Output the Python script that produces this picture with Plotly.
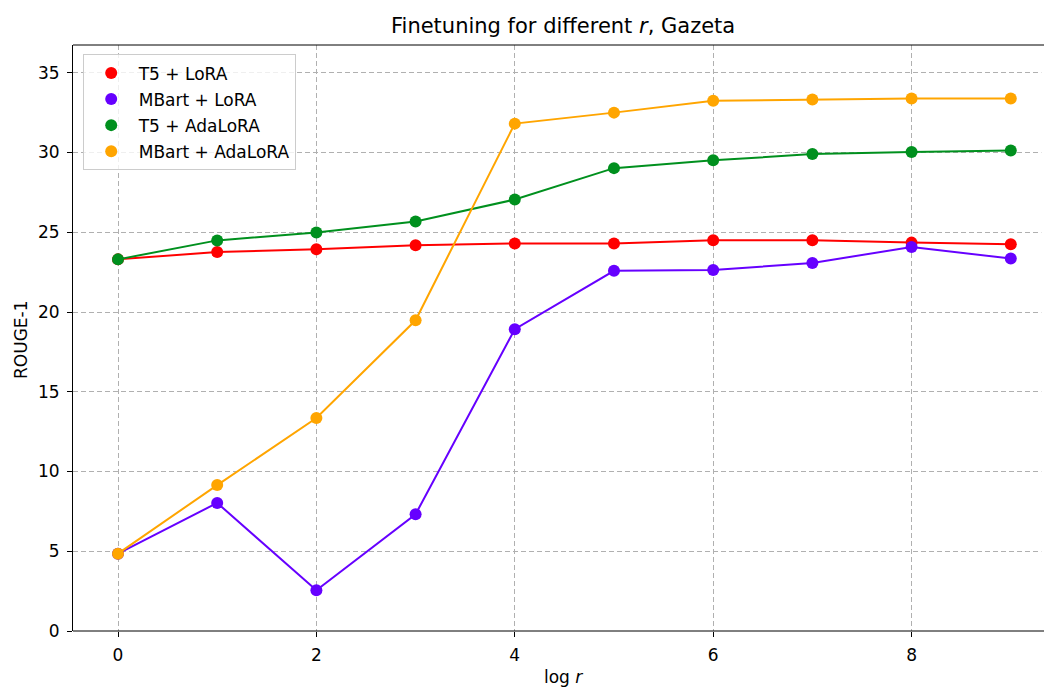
import plotly.graph_objects as go

log_r = [0, 1, 2, 3, 4, 5, 6, 7, 8, 9]
t5_lora = [23.3, 23.76, 23.93, 24.18, 24.3, 24.3, 24.5, 24.5, 24.35, 24.25]
mbart_lora = [4.85, 8.03, 2.55, 7.32, 18.92, 22.58, 22.64, 23.07, 24.08, 23.35]
t5_adalora = [23.3, 24.49, 24.98, 25.67, 27.05, 29.02, 29.51, 29.9, 30.03, 30.12]
mbart_adalora = [4.85, 9.15, 13.35, 19.48, 31.81, 32.5, 33.24, 33.32, 33.38, 33.38]

series_names = ["T5 + LoRA", "MBart + LoRA", "T5 + AdaLoRA", "MBart + AdaLoRA"]
series_values = [t5_lora, mbart_lora, t5_adalora, mbart_adalora]
series_colors = ["#ff0000", "#6600ff", "#00901e", "#ffa500"]

fig = go.Figure()
for i, (name, vals, col) in enumerate(zip(series_names, series_values, series_colors)):
    fig.add_trace(go.Scatter(x=log_r, y=vals, mode="lines",
                             line=dict(color=col, width=2), showlegend=False,
                             hoverinfo="skip"))
    fig.add_trace(go.Scatter(x=log_r, y=vals, mode="markers", name=name,
                             marker=dict(color=col, size=12),
                             legendgroup=f"g{i}", showlegend=True))

font_family = "DejaVu Sans"
common = dict(showgrid=True, gridcolor="#b0b0b0", griddash="5px,3px", gridwidth=1,
              linecolor="#000000", linewidth=1,
              ticks="outside", ticklen=5, tickcolor="#000000",
              zeroline=False, ticklabelstandoff=4)
fig.update_layout(
    width=1044, height=689,
    margin=dict(l=73, r=0, t=45, b=58),
    paper_bgcolor="white", plot_bgcolor="white",
    font=dict(family=font_family, size=17, color="#000000"),
    showlegend=True,
    legend=dict(x=0.01, y=0.984, xanchor="left", yanchor="top",
                bgcolor="rgba(255,255,255,0.8)", bordercolor="#cccccc",
                borderwidth=1, font=dict(size=17, family=font_family),
                tracegroupgap=1, itemsizing="trace", itemwidth=45),
    xaxis=dict(range=[-0.4536, 9.335], tickmode="array",
               tickvals=[0, 2, 4, 6, 8], ticktext=["0", "2", "4", "6", "8"],
               showline=False, **common),
    yaxis=dict(range=[0, 36.74], tickmode="array",
               tickvals=[0, 5, 10, 15, 20, 25, 30, 35],
               ticktext=["0", "5", "10", "15", "20", "25", "30", "35"],
               showline=True, **common),
    shapes=[
        dict(type="line", xref="paper", yref="paper", x0=0.9993, x1=0.9993,
             y0=0.002, y1=0.998, line=dict(color="#ffffff", width=4)),
        dict(type="line", xref="paper", yref="paper", x0=0, x1=1, y0=0, y1=0,
             line=dict(color="#000000", width=1)),
        dict(type="line", xref="paper", yref="paper", x0=0, x1=1, y0=1, y1=1,
             line=dict(color="#000000", width=1)),
    ],
    annotations=[
        dict(text="Finetuning for different <i>r</i>, Gazeta", xref="paper", yref="paper",
             x=0.505, y=(689 - 26 - 58) / 586, xanchor="center", yanchor="middle",
             showarrow=False, font=dict(size=21, family=font_family)),
        dict(text="log <i>r</i>", xref="paper", yref="paper",
             x=0.505, y=-(677 - 631) / 586, xanchor="center", yanchor="middle",
             showarrow=False, font=dict(size=17, family=font_family)),
        dict(text="ROUGE-1", xref="paper", yref="paper", textangle=-90,
             x=-(73 - 21) / 971, y=(631 - 340) / 586, xanchor="center", yanchor="middle",
             showarrow=False, font=dict(size=17, family=font_family)),
    ],
)

fig.write_html("out.html", config={"displayModeBar": False},
               post_script="document.body.style.margin='0';document.body.style.overflow='hidden';")
